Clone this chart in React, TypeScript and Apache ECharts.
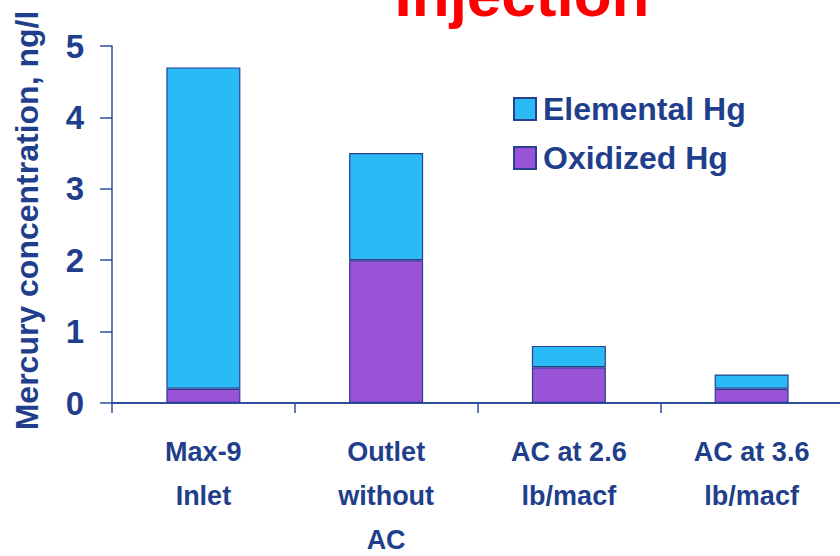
import React, { useEffect, useRef } from "react";
import * as echarts from "echarts";

const categories = ["Max-9\nInlet", "Outlet\nwithout\nAC", "AC at 2.6\nlb/macf", "AC at 3.6\nlb/macf"];
const oxidized = [0.2, 2.0, 0.5, 0.2];
const elemental = [4.5, 1.5, 0.3, 0.2];
const seriesNames = ["Elemental Hg", "Oxidized Hg"];
const titleText = "Injection";
const yAxisName = "Mercury concentration, ng/l";

const NAVY = "#1F3F8C";
const AXIS = "#2E4E9C";
const FONT = "'Liberation Sans', Arial, sans-serif";

export default function App() {
  const ref = useRef<HTMLDivElement>(null);
  useEffect(() => {
    const chart = echarts.init(ref.current!, null, { renderer: "svg" });
    chart.setOption({
      animation: false,
      backgroundColor: "#ffffff",
      graphic: [
        {
          type: "text",
          x: 522,
          y: 25,
          style: {
            text: titleText,
            fill: "#FF0000",
            font: `bold 62px ${FONT}`,
            align: "center",
            verticalAlign: "bottom",
          },
        },
      ],
      legend: {
        orient: "vertical",
        left: 508,
        top: 88,
        icon: "rect",
        itemWidth: 22,
        itemHeight: 22,
        itemGap: 17,
        data: seriesNames,
        textStyle: {
          color: NAVY,
          fontSize: 32,
          fontWeight: "bold",
          fontFamily: FONT,
          lineHeight: 32,
          padding: [0, 0, 0, 2],
        },
      },
      grid: { left: 112, top: 46, width: 731, bottom: 153, containLabel: false, outerBoundsMode: "none" },
      xAxis: {
        type: "category",
        data: categories,
        boundaryGap: true,
        axisLine: { lineStyle: { color: AXIS, width: 2 } },
        axisTick: { show: true, length: 10, lineStyle: { color: AXIS, width: 1.5 } },
        axisLabel: {
          color: NAVY,
          fontSize: 27,
          fontWeight: "bold",
          fontFamily: FONT,
          lineHeight: 44,
          margin: 27,
          interval: 0,
        },
      },
      yAxis: {
        type: "value",
        min: 0,
        max: 5,
        interval: 1,
        name: yAxisName,
        nameLocation: "middle",
        nameGap: 69,
        nameTextStyle: {
          color: NAVY,
          fontSize: 32,
          fontWeight: "bold",
          fontFamily: FONT,
          padding: [0, 0, 0, 8],
        },
        axisLine: { show: true, lineStyle: { color: AXIS, width: 1.5 } },
        axisTick: { show: true, length: 12, lineStyle: { color: AXIS, width: 1.5 } },
        splitLine: { show: false },
        axisLabel: {
          color: NAVY,
          fontSize: 33,
          fontWeight: "bold",
          fontFamily: FONT,
          margin: 28,
        },
      },
      series: [
        {
          name: seriesNames[1],
          type: "bar",
          stack: "hg",
          data: oxidized,
          barWidth: 74,
          itemStyle: { color: "#9953D6", borderColor: "#2A3F8F", borderWidth: 1.2 },
        },
        {
          name: seriesNames[0],
          type: "bar",
          stack: "hg",
          data: elemental,
          barWidth: 74,
          itemStyle: { color: "#2ABAF6", borderColor: "#2A3F8F", borderWidth: 1.2 },
        },
      ],
    });
    return () => chart.dispose();
  }, []);
  return <div ref={ref} style={{ width: 840, height: 556, position: "absolute", left: 0, top: 0 }} />;
}
